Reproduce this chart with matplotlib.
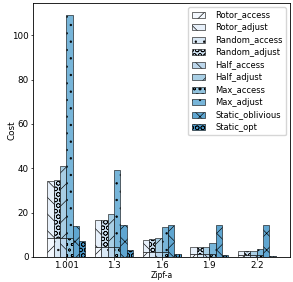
import numpy as np
import matplotlib
matplotlib.use("Agg")
import matplotlib.pyplot as plt

zipf = ["1.001", "1.3", "1.6", "1.9", "2.2"]

# access part (bottom of stacked bars)
access = [8.5, 4.4, 2.2, 1.3, 0.8]

rotor_total = [34.1, 16.7, 7.7, 4.4, 2.8]
random_total = [34.5, 16.7, 8.1, 4.4, 2.8]
half_total = [40.8, 19.4, 8.7, 4.5, 2.8]
max_total = [109.0, 39.3, 13.7, 6.3, 3.6]
static_oblivious = [14.0, 14.3, 14.3, 14.3, 14.3]
static_opt = [7.0, 3.2, 1.2, 0.75, 0.5]

labels = ["Rotor_access", "Rotor_adjust", "Random_access", "Random_adjust",
          "Half_access", "Half_adjust", "Max_access", "Max_adjust",
          "Static_oblivious", "Static_opt"]
hatches = ["//", "\\\\", "..", "OOO", "\\\\", "//", "ooo", "..", "xx", "OOO"]

plt.rcParams['hatch.linewidth'] = 0.45
plt.rcParams['font.size'] = 6.3

colors = plt.cm.Blues(np.linspace(0.02, 0.6, 10))

fig = plt.figure(figsize=(2.93, 2.82), dpi=100)
ax = fig.add_axes([0.113, 0.089, 0.877, 0.9])

x = np.arange(len(zipf))
w = 0.133
acc = np.array(access)
stacked = [rotor_total, random_total, half_total, max_total]

for k, tot in enumerate(stacked):
    pos = x + (k - 2.5) * w
    adj = np.array(tot) - acc
    ax.bar(pos, acc, w, color=colors[2 * k], edgecolor='k', linewidth=0.4,
           hatch=hatches[2 * k], label=labels[2 * k])
    ax.bar(pos, adj, w, bottom=acc, color=colors[2 * k + 1], edgecolor='k',
           linewidth=0.4, hatch=hatches[2 * k + 1], label=labels[2 * k + 1])

ax.bar(x + 1.5 * w, static_oblivious, w, color=colors[8], edgecolor='k',
       linewidth=0.4, hatch=hatches[8], label=labels[8])
ax.bar(x + 2.5 * w, static_opt, w, color=colors[9], edgecolor='k',
       linewidth=0.4, hatch=hatches[9], label=labels[9])

ax.set_xticks(x)
ax.set_xticklabels(zipf)
ax.set_xlim(-0.7, 4.7)
ax.set_ylim(0, 114.5)
ax.tick_params(length=1.8, width=0.5, pad=1.2)
for s in ax.spines.values():
    s.set_linewidth(0.6)
ax.set_xlabel("Zipf-a", fontsize=5.5, labelpad=1)
ax.set_ylabel("Cost", fontsize=6.3)
ax.yaxis.set_label_coords(-0.063, 0.5)
ax.legend(loc='upper right', fontsize=6, handlelength=1.6, handletextpad=1.2,
          labelspacing=0.42)

fig.savefig("out.png", dpi=100)
